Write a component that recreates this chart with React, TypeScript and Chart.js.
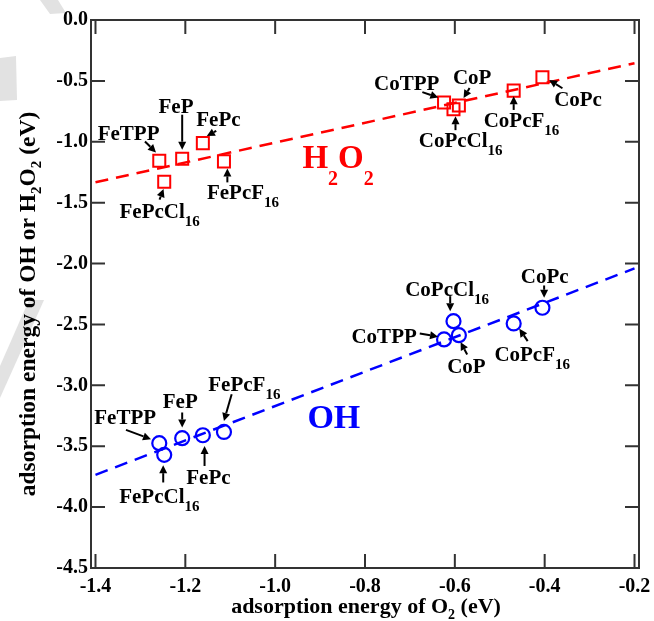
import React, { useEffect, useRef } from 'react';
import { Chart, registerables } from 'chart.js';

Chart.register(...registerables);

// Catalysts and their adsorption energies (eV)
const catalysts = ['FeTPP', 'FePcCl16', 'FeP', 'FePc', 'FePcF16', 'CoTPP', 'CoPcCl16', 'CoP', 'CoPcF16', 'CoPc'];
const o2Energy = [-1.258, -1.247, -1.207, -1.161, -1.114, -0.624, -0.603, -0.591, -0.469, -0.405];
const h2o2Energy = [-1.156, -1.328, -1.139, -1.011, -1.161, -0.678, -0.732, -0.702, -0.58, -0.47];
const ohEnergy = [-3.475, -3.571, -3.434, -3.41, -3.383, -2.623, -2.473, -2.588, -2.492, -2.363];

// Linear fit end points
const fitX = [-1.4, -0.2];
const h2o2FitY = [-1.333, -0.355];
const ohFitY = [-3.735, -2.04];

// Axis ticks
const xTicks = [-1.4, -1.2, -1.0, -0.8, -0.6, -0.4, -0.2];
const yTicks = [0, -0.5, -1.0, -1.5, -2.0, -2.5, -3.0, -3.5, -4.0, -4.5];

const SERIF = '"Liberation Serif", "Times New Roman", serif';
const RED = '#ff0000';
const BLUE = '#0000ff';

// Name label placement around each marker, in pixels: [text left, text baseline, arrow tail x, y, arrow head x, y]
const h2o2Tags: number[][] = [
  [-61.6, -21, -14.3, -19.3, -3.3, -8.3],
  [-44.7, 36, -4.7, 18, -0.7, 7.3],
  [-23.7, -46, 0, -44, 0, -9],
  [-6.6, -17.3, 13.4, -12.3, 4, -7],
  [-17, 37.3, 3.4, 21, 3.4, 7],
  [-70, -12.7, -21.7, -10.4, -5.7, -5],
  [-34.7, 37.4, 2, 21, 2, 7],
  [-6, -21.4, 10.7, -17.4, 4.7, -7.4],
  [-30, 36, 0, 19.3, 0, 5.5],
  [11.7, 28.7, 20, 11, 6.7, 2.7],
];
const ohTags: number[][] = [
  [-65, -19, -33.3, -13.3, -8.3, -4],
  [-45, 48.3, -1, 27.6, -1, 10.3],
  [-19.4, -29.7, 0, -25.7, 0, -10.7],
  [-16.6, 49, 1.7, 30.7, 1.7, 10.7],
  [-15.7, -41, 7.7, -37.7, 0, -11],
  [-92.6, 3.3, -24.3, -6, -6, -2.7],
  [-48.3, -25, -3.3, -25, -3.3, -10],
  [-11.7, 38.3, 8.3, 19.3, 1.7, 7],
  [-19.3, 37.7, 14, 17.7, 5.7, 5.3],
  [-21.6, -25, 1.7, -22.3, 1.7, -10],
];

type Part = { t: string; sub?: boolean };

function splitName(name: string): Part[] {
  const m = name.match(/^(.*?)(\d+)?$/);
  const parts: Part[] = [{ t: m ? m[1] : name }];
  if (m && m[2]) parts.push({ t: m[2], sub: true });
  return parts;
}

function drawRich(
  ctx: CanvasRenderingContext2D,
  parts: Part[],
  x: number,
  y: number,
  size: number,
  subSize: number,
  subDrop: number,
  color: string,
  align: 'left' | 'center'
) {
  const font = (s: number) => `bold ${s}px ${SERIF}`;
  let total = 0;
  const widths = parts.map((p) => {
    ctx.font = font(p.sub ? subSize : size);
    const w = ctx.measureText(p.t).width;
    total += w;
    return w;
  });
  let cx = align === 'center' ? x - total / 2 : x;
  ctx.fillStyle = color;
  ctx.textAlign = 'left';
  ctx.textBaseline = 'alphabetic';
  parts.forEach((p, i) => {
    ctx.font = font(p.sub ? subSize : size);
    ctx.fillText(p.t, cx, p.sub ? y + subDrop : y);
    cx += widths[i];
  });
}

function drawArrow(ctx: CanvasRenderingContext2D, x0: number, y0: number, x1: number, y1: number) {
  const a = Math.atan2(y1 - y0, x1 - x0);
  const hl = 8;
  const hw = 4;
  const c = Math.cos(a);
  const s = Math.sin(a);
  ctx.strokeStyle = '#000';
  ctx.fillStyle = '#000';
  ctx.lineWidth = 2;
  ctx.beginPath();
  ctx.moveTo(x0, y0);
  ctx.lineTo(x1 - hl * c, y1 - hl * s);
  ctx.stroke();
  ctx.beginPath();
  ctx.moveTo(x1, y1);
  ctx.lineTo(x1 - hl * c + hw * s, y1 - hl * s - hw * c);
  ctx.lineTo(x1 - hl * c - hw * s, y1 - hl * s + hw * c);
  ctx.closePath();
  ctx.fill();
}

const backdrop = {
  id: 'backdrop',
  beforeDraw(chart: any) {
    const ctx = chart.ctx as CanvasRenderingContext2D;
    ctx.save();
    ctx.fillStyle = '#ffffff';
    ctx.fillRect(0, 0, chart.width, chart.height);
    ctx.fillStyle = '#e2e2e2';
    const shapes = [
      [[40, 0], [58, 0], [66, 13], [50, 14]],
      [[0, 58], [16, 56], [17, 100], [0, 101]],
      [[29, 300], [44, 300], [0, 398], [0, 366]],
    ];
    shapes.forEach((pts) => {
      ctx.beginPath();
      pts.forEach(([px, py], i) => (i ? ctx.lineTo(px, py) : ctx.moveTo(px, py)));
      ctx.closePath();
      ctx.fill();
    });
    ctx.restore();
  },
};

const frameAndTags = {
  id: 'frameAndTags',
  afterDatasetsDraw(chart: any) {
    const ctx = chart.ctx as CanvasRenderingContext2D;
    const xs = chart.scales.x;
    const ys = chart.scales.y;
    const { left, right, top, bottom } = chart.chartArea;
    ctx.save();

    // frame with inward ticks on all four sides
    ctx.strokeStyle = '#333';
    ctx.lineWidth = 2;
    ctx.strokeRect(left, top, right - left, bottom - top);
    const tl = 14;
    ctx.beginPath();
    xTicks.forEach((v) => {
      const px = xs.getPixelForValue(v);
      ctx.moveTo(px, bottom);
      ctx.lineTo(px, bottom - tl);
      ctx.moveTo(px, top);
      ctx.lineTo(px, top + tl);
    });
    yTicks.forEach((v) => {
      const py = ys.getPixelForValue(v);
      ctx.moveTo(left, py);
      ctx.lineTo(left + tl, py);
      ctx.moveTo(right, py);
      ctx.lineTo(right - tl, py);
    });
    ctx.stroke();

    // catalyst names with arrows
    const tagSet = (values: number[], tags: number[][]) => {
      catalysts.forEach((name, i) => {
        const px = xs.getPixelForValue(o2Energy[i]);
        const py = ys.getPixelForValue(values[i]);
        const t = tags[i];
        drawRich(ctx, splitName(name), px + t[0], py + t[1], 21, 15, 8, '#000', 'left');
        drawArrow(ctx, px + t[2], py + t[3], px + t[4], py + t[5]);
      });
    };
    tagSet(h2o2Energy, h2o2Tags);
    tagSet(ohEnergy, ohTags);

    // series names
    drawRich(
      ctx,
      [{ t: 'H' }, { t: '2', sub: true }, { t: 'O' }, { t: '2', sub: true }],
      xs.getPixelForValue(-0.9393),
      ys.getPixelForValue(-1.213),
      33,
      20,
      17,
      RED,
      'left'
    );
    drawRich(ctx, [{ t: 'OH' }], xs.getPixelForValue(-0.9282), ys.getPixelForValue(-3.352), 34, 20, 18, BLUE, 'left');

    // axis titles
    drawRich(
      ctx,
      [{ t: 'adsorption energy of O' }, { t: '2', sub: true }, { t: ' (eV)' }],
      (left + right) / 2 + 1,
      613,
      22,
      14,
      6,
      '#000',
      'center'
    );
    ctx.translate(35, 304);
    ctx.rotate(-Math.PI / 2);
    drawRich(
      ctx,
      [
        { t: 'adsorption energy of OH or H' },
        { t: '2', sub: true },
        { t: 'O' },
        { t: '2', sub: true },
        { t: ' (eV)' },
      ],
      0,
      0,
      23.5,
      15,
      6,
      '#000',
      'center'
    );
    ctx.restore();
  },
};

export default function App() {
  const canvasRef = useRef<HTMLCanvasElement | null>(null);

  useEffect(() => {
    const canvas = canvasRef.current;
    if (!canvas) return;
    const tickFont = { family: SERIF, size: 20, weight: 'bold' as const };
    const chart = new Chart(canvas, {
      type: 'scatter',
      data: {
        datasets: [
          {
            type: 'line',
            label: 'H2O2 fit',
            data: fitX.map((x, i) => ({ x, y: h2o2FitY[i] })),
            borderColor: RED,
            borderWidth: 2.5,
            borderDash: [13, 8],
            pointRadius: 0,
            fill: false,
          },
          {
            type: 'line',
            label: 'OH fit',
            data: fitX.map((x, i) => ({ x, y: ohFitY[i] })),
            borderColor: BLUE,
            borderWidth: 2.5,
            borderDash: [13, 8],
            pointRadius: 0,
            fill: false,
          },
          {
            type: 'scatter',
            label: 'H2O2',
            data: o2Energy.map((x, i) => ({ x, y: h2o2Energy[i] })),
            pointStyle: 'rect',
            pointRadius: 8.5,
            borderColor: RED,
            backgroundColor: 'rgba(0,0,0,0)',
            borderWidth: 2,
          },
          {
            type: 'scatter',
            label: 'OH',
            data: o2Energy.map((x, i) => ({ x, y: ohEnergy[i] })),
            pointStyle: 'circle',
            pointRadius: 7,
            borderColor: BLUE,
            backgroundColor: 'rgba(0,0,0,0)',
            borderWidth: 2.2,
          },
        ],
      },
      options: {
        responsive: false,
        animation: false,
        events: [],
        layout: { padding: { top: 20, right: 15, left: 0, bottom: 0 } },
        plugins: { legend: { display: false }, tooltip: { enabled: false } },
        scales: {
          x: {
            type: 'linear',
            min: -1.41,
            max: -0.19,
            grid: { display: false, drawTicks: false, tickLength: 0 },
            border: { display: false },
            afterBuildTicks: (s: any) => {
              s.ticks = xTicks.map((value) => ({ value }));
            },
            afterFit: (s: any) => {
              s.height = 53;
              s.paddingLeft = 0;
              s.paddingRight = 0;
            },
            ticks: {
              color: '#000',
              font: tickFont,
              padding: 7,
              maxRotation: 0,
              autoSkip: false,
              callback: (v: any) => Number(v).toFixed(1),
            },
          },
          y: {
            type: 'linear',
            min: -4.5,
            max: 0,
            grid: { display: false, drawTicks: false, tickLength: 0 },
            border: { display: false },
            afterBuildTicks: (s: any) => {
              s.ticks = yTicks.map((value) => ({ value }));
            },
            afterFit: (s: any) => {
              s.width = 91;
              s.paddingTop = 0;
              s.paddingBottom = 0;
            },
            ticks: {
              color: '#000',
              font: tickFont,
              padding: 3,
              autoSkip: false,
              callback: (v: any) => Number(v).toFixed(1),
            },
          },
        },
      },
      plugins: [backdrop, frameAndTags],
    } as any);
    return () => chart.destroy();
  }, []);

  return (
    <div style={{ position: 'absolute', left: 0, top: 0, width: 654, height: 621 }}>
      <canvas ref={canvasRef} width={654} height={621} />
    </div>
  );
}
